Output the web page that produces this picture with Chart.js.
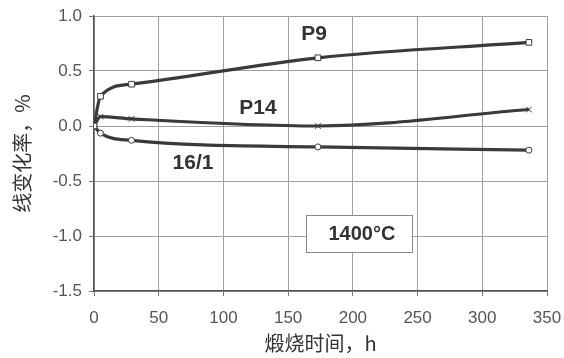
<!DOCTYPE html>
<html>
<head>
<meta charset="utf-8">
<script src="https://cdn.jsdelivr.net/npm/chart.js@4/dist/chart.umd.min.js"></script>
<style>
html,body{margin:0;padding:0;background:#fff;}
canvas{display:block;}
</style>
</head>
<body>
<canvas id="c" width="564" height="358"></canvas>
<script>
// Data
const hours = [0, 5, 29, 173, 336];
const p9 = [0, 0.27, 0.38, 0.62, 0.76];
const p14 = [0, 0.085, 0.065, 0.0, 0.15];
const s16_1 = [0, -0.065, -0.13, -0.19, -0.22];
const seriesNames = ['P9', 'P14', '16/1'];
const xTicks = [0, 50, 100, 150, 200, 250, 300, 350];
const yTicks = [-1.5, -1.0, -0.5, 0.0, 0.5, 1.0];
const xTitle = '煅烧时间，h';
const yTitle = '线变化率，%';
const tempLabel = '1400°C';

// Label placements (data coords)
const labelPos = [
  {text: 'P9', x: 170, y: 0.83},
  {text: 'P14', x: 126.7, y: 0.16},
  {text: '16/1', x: 76.5, y: -0.34}
];
const boxPos = {x: 204.7, y: -0.977, w: 106, h: 37};

const lineColor = '#3a3a3a';
const FONT = "'Liberation Sans', Arial, sans-serif";

function pts(ys){ return hours.map((h,i)=>({x:h,y:ys[i]})); }

const annot = {
  id: 'annot',
  afterDatasetsDraw(chart){
    const {ctx, scales:{x,y}} = chart;
    ctx.save();
    ctx.fillStyle = '#333';
    ctx.font = "bold 21px " + FONT;
    ctx.textAlign = 'center';
    ctx.textBaseline = 'middle';
    labelPos.forEach(l => ctx.fillText(l.text, x.getPixelForValue(l.x), y.getPixelForValue(l.y)));
    const cx = x.getPixelForValue(boxPos.x), cy = y.getPixelForValue(boxPos.y);
    ctx.fillStyle = '#fff';
    ctx.fillRect(cx - boxPos.w/2, cy - boxPos.h/2, boxPos.w, boxPos.h);
    ctx.strokeStyle = '#888';
    ctx.lineWidth = 1;
    ctx.strokeRect(Math.round(cx - boxPos.w/2)+0.5, Math.round(cy - boxPos.h/2)+0.5, boxPos.w, boxPos.h);
    ctx.fillStyle = '#333';
    ctx.font = "bold 20px " + FONT;
    ctx.fillText(tempLabel, cx + 3, cy + 1);
    ctx.restore();
  }
};

const ds = (label, data, style, radius) => ({
  label, data: pts(data),
  borderColor: lineColor, borderWidth: 3.2,
  pointStyle: style, pointRadius: radius,
  pointBackgroundColor: '#fff', pointBorderColor: lineColor, pointBorderWidth: 1,
  cubicInterpolationMode: 'monotone', fill: false
});

new Chart(document.getElementById('c'), {
  type: 'line',
  data: {
    datasets: [
      ds(seriesNames[0], p9, 'rect', 4),
      ds(seriesNames[1], p14, 'crossRot', 4),
      ds(seriesNames[2], s16_1, 'circle', 3)
    ]
  },
  options: {
    responsive: false,
    animation: false,
    devicePixelRatio: 1,
    layout: {padding: {left: 0, right: 17, top: 16, bottom: 0}},
    plugins: {legend: {display: false}, tooltip: {enabled: false}},
    scales: {
      x: {
        type: 'linear', min: 0, max: 350,
        afterFit(s){ s.height = 67; s.paddingLeft = 0; s.paddingRight = 0; },
        afterBuildTicks(s){ s.ticks = xTicks.map(v=>({value:v})); },
        ticks: {color: '#555', font: {family: FONT, size: 17}, padding: 12, maxRotation: 0},
        grid: {color: '#a0a0a0', lineWidth: 1, tickLength: 5, tickColor: '#777'},
        border: {color: '#555', width: 1.5},
        title: {display: true, text: xTitle, color: '#333', font: {family: "'Noto Sans CJK SC', " + FONT, size: 20}, padding: {top: 0, bottom: 3}}
      },
      y: {
        type: 'linear', min: -1.5, max: 1.0,
        afterFit(s){ s.width = 94; s.paddingTop = 0; s.paddingBottom = 0; },
        afterBuildTicks(s){ s.ticks = yTicks.map(v=>({value:v})); },
        ticks: {color: '#555', font: {family: FONT, size: 17}, padding: 7, callback: v => v.toFixed(1)},
        grid: {color: '#a0a0a0', lineWidth: 1, tickLength: 5, tickColor: '#777'},
        border: {color: '#555', width: 1.5},
        title: {display: true, text: yTitle, color: '#333', font: {family: "'Noto Sans CJK SC', " + FONT, size: 20}, padding: {top: 10, bottom: 0}}
      }
    }
  },
  plugins: [annot]
});
</script>
</body>
</html>
